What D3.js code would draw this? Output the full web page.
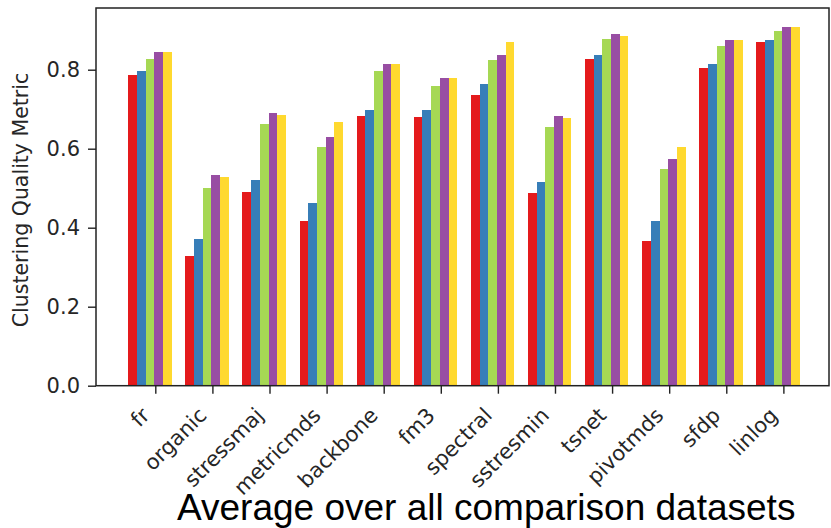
<!DOCTYPE html>
<html>
<head>
<meta charset="utf-8">
<script src="https://cdn.jsdelivr.net/npm/d3@7"></script>
<style>
  html, body { margin: 0; padding: 0; background: #fff; }
  svg { display: block; }
</style>
</head>
<body>
<svg id="chart" width="831" height="528"></svg>
<script>
// ---- data ----
const categories = ["fr", "organic", "stressmaj", "metricmds", "backbone", "fm3",
                    "spectral", "sstresmin", "tsnet", "pivotmds", "sfdp", "linlog"];
const seriesNames = ["series 1", "series 2", "series 3", "series 4", "series 5"];
const series1 = [0.786, 0.329, 0.490, 0.418, 0.683, 0.679, 0.737, 0.487, 0.828, 0.367, 0.805, 0.871];
const series2 = [0.797, 0.371, 0.521, 0.463, 0.698, 0.698, 0.763, 0.516, 0.836, 0.418, 0.814, 0.874];
const series3 = [0.828, 0.501, 0.663, 0.605, 0.797, 0.759, 0.825, 0.655, 0.878, 0.548, 0.859, 0.897];
const series4 = [0.844, 0.533, 0.690, 0.629, 0.814, 0.778, 0.836, 0.682, 0.890, 0.575, 0.874, 0.909];
const series5 = [0.845, 0.529, 0.686, 0.667, 0.814, 0.778, 0.871, 0.678, 0.886, 0.605, 0.874, 0.909];
const yTickValues = [0.0, 0.2, 0.4, 0.6, 0.8];
const colors = ["#e41a1c", "#377eb8", "#a6d854", "#984ea3", "#ffd92f"];
const yLabel = "Clustering Quality Metric";
const title = "Average over all comparison datasets";

const allSeries = [series1, series2, series3, series4, series5];

// ---- layout ----
const svg = d3.select("#chart");
const plot = { left: 96, right: 829, top: 8, bottom: 385.7 };
const barWidth = 0.152;          // in category units
const groupOffset = -0.473;      // left edge of first bar relative to tick

const x = d3.scaleLinear().domain([-1.0387, 11.799]).range([plot.left, plot.right]);
const y = d3.scaleLinear().domain([0, 0.9562]).range([plot.bottom, plot.top]);

// bars
const barData = [];
allSeries.forEach((vals, j) => {
  vals.forEach((v, i) => barData.push({ i, j, v }));
});
svg.append("g").selectAll("rect").data(barData).join("rect")
  .attr("x", d => x(d.i + groupOffset + d.j * barWidth))
  .attr("width", d => x(barWidth) - x(0))
  .attr("y", d => y(d.v))
  .attr("height", d => y(0) - y(d.v))
  .attr("fill", d => colors[d.j])
  .attr("shape-rendering", "crispEdges");

// y axis
const yAxis = d3.axisLeft(y).tickValues(yTickValues).tickFormat(d3.format(".1f"))
  .tickSize(8).tickPadding(8).tickSizeOuter(0);
const gy = svg.append("g").attr("transform", `translate(${plot.left},0)`).call(yAxis);
gy.select(".domain").remove();
gy.selectAll("line").attr("stroke", "#222").attr("stroke-width", 1.4);
gy.selectAll("text").attr("font-family", "DejaVu Sans").attr("font-size", 21)
  .attr("fill", "#262626");

// x axis
const xAxis = d3.axisBottom(x).tickValues(d3.range(categories.length))
  .tickFormat(i => categories[i]).tickSize(8).tickSizeOuter(0);
const gx = svg.append("g").attr("transform", `translate(0,${plot.bottom})`).call(xAxis);
gx.select(".domain").remove();
gx.selectAll("line").attr("stroke", "#222").attr("stroke-width", 1.4);
gx.selectAll("text")
  .attr("font-family", "DejaVu Sans").attr("font-size", 21)
  .attr("fill", "#262626")
  .attr("text-anchor", "end")
  .attr("dy", null).attr("y", null)
  .attr("transform", "translate(-5,31) rotate(-45)");

// frame
svg.append("rect")
  .attr("x", plot.left).attr("y", plot.top)
  .attr("width", plot.right - plot.left).attr("height", plot.bottom - plot.top)
  .attr("fill", "none").attr("stroke", "#222").attr("stroke-width", 1.5);

// y label
svg.append("text")
  .attr("transform", `translate(28,200) rotate(-90)`)
  .attr("text-anchor", "middle")
  .attr("font-family", "DejaVu Sans").attr("font-size", 20.5)
  .attr("fill", "#262626")
  .text(yLabel);

// title
svg.append("text")
  .attr("x", 177).attr("y", 520)
  .attr("font-family", "Liberation Sans, Arial, sans-serif").attr("font-size", 37)
  .attr("fill", "#000")
  .text(title);
</script>
</body>
</html>
